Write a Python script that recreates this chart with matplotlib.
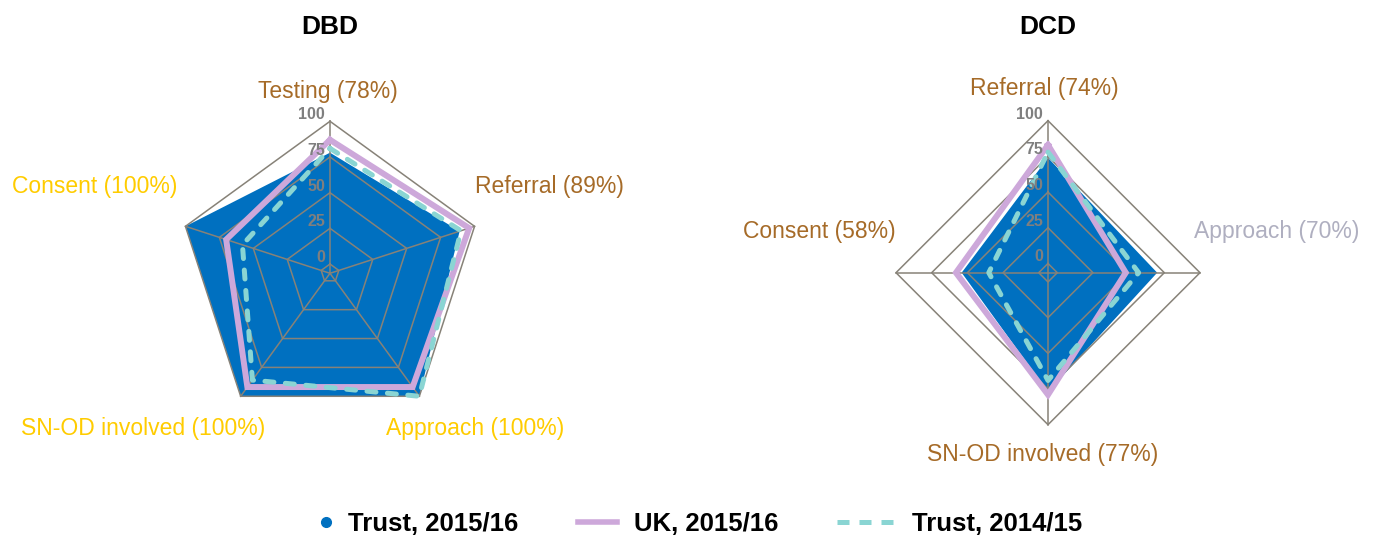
import numpy as np
import matplotlib
matplotlib.use('Agg')
import matplotlib.pyplot as plt
from matplotlib.lines import Line2D
import matplotlib.transforms as mtransforms

plt.rcParams['font.family'] = ['Liberation Sans', 'DejaVu Sans']

# ---------------- data ----------------
dbd_labels = ['Testing (78%)', 'Referral (89%)', 'Approach (100%)',
              'SN-OD involved (100%)', 'Consent (100%)']
dbd_trust_1516 = [78, 89, 100, 100, 100]
dbd_uk_1516 = [87, 96, 92, 92, 70]
dbd_trust_1415 = [81, 90, 100, 86, 58]

dcd_labels = ['Referral (74%)', 'Approach (70%)', 'SN-OD involved (77%)', 'Consent (58%)']
dcd_trust_1516 = [74, 70, 77, 54]
dcd_uk_1516 = [83, 48, 79, 58]
dcd_trust_1415 = [78, 57, 69, 35]

rings = [0, 25, 50, 75, 100]
series_names = ['Trust, 2015/16', 'UK, 2015/16', 'Trust, 2014/15']

# ---------------- style ----------------
BROWN = '#A66B28'
YELLOW = '#FFCC00'
LGRAY = '#AFAFC0'
dbd_label_colors = [BROWN, BROWN, YELLOW, YELLOW, YELLOW]
dcd_label_colors = [BROWN, LGRAY, BROWN, BROWN]

BLUE = '#0070C0'
PINK = '#CDA8DA'
TEAL = '#8AD5D3'
GRID = '#878278'
RMIN = -6.5

W, H = 1375, 541
fig = plt.figure(figsize=(W / 100, H / 100), dpi=100)


def fx(x):
    return x / W


def fy(y):
    return 1 - y / H


def radar(cx, cy, R, trust, uk, prev, labels, label_pos, label_colors, title):
    ax = fig.add_axes([fx(cx - R), fy(cy + R), 2 * R / W, 2 * R / H], projection='polar')
    ax.set_theta_offset(np.pi / 2)
    ax.set_theta_direction(-1)
    ax.set_ylim(RMIN, 100)
    ax.set_axis_off()
    n = len(trust)
    theta = np.linspace(0, 2 * np.pi, n, endpoint=False)
    th = np.r_[theta, theta[:1]]

    def close(v):
        return np.r_[v, v[:1]]

    ax.fill(th, close(trust), color=BLUE, lw=0, zorder=1)
    for lev in rings:
        ax.plot(th, [lev] * (n + 1), color=GRID, lw=1.1, zorder=2, clip_on=False)
    for t in theta:
        ax.plot([t, t], [RMIN, 100], color=GRID, lw=1.1, zorder=2, clip_on=False)
    ax.plot(th, close(uk), color=PINK, lw=4.3, zorder=3, clip_on=False,
            solid_joinstyle='miter')
    ax.plot(th, close(prev), color=TEAL, lw=3.6, ls=(0, (1.8, 2.3)),
            dash_capstyle='round', zorder=4, clip_on=False)

    tr = mtransforms.offset_copy(ax.transData, fig=fig, x=-5, y=-1, units='dots')
    for lev in rings:
        ax.text(0, lev, str(lev), transform=tr, ha='right', va='bottom',
                color='#7F7F7F', fontsize=11.5, fontweight='bold', zorder=6)

    for lab, (px, py), col in zip(labels, label_pos, label_colors):
        fig.text(fx(px), fy(py), lab, ha='center', va='center', color=col, fontsize=16.5)

    fig.text(fx(cx), fy(27), title, ha='center', va='center',
             fontweight='bold', fontsize=19)


radar(330, 273.3, 152, dbd_trust_1516, dbd_uk_1516, dbd_trust_1415, dbd_labels,
      [(328, 92), (549, 187), (475, 429), (143, 429), (95, 187)],
      dbd_label_colors, 'DBD')
radar(1048, 272.7, 152, dcd_trust_1516, dcd_uk_1516, dcd_trust_1415, dcd_labels,
      [(1044, 89), (1277, 231), (1043, 454), (819, 231)],
      dcd_label_colors, 'DCD')

# ---------------- legend (Excel-style equal-width entries) ----------------
handles = [
    Line2D([], [], color=BLUE, marker='o', ls='none', markersize=7),
    Line2D([], [], color=PINK, lw=4),
    Line2D([], [], color=TEAL, lw=3.6, ls=(0, (2.4, 2.0)), dash_capstyle='butt'),
]
entry_left = [318, 578, 837]
handle_len = [0.6, 1.52, 2.18]
text_pad = [0.56, 0.66, 0.74]
for h, name, x0, hl, tp in zip(handles, series_names, entry_left, handle_len, text_pad):
    lg = fig.legend([h], [name], loc='center left', bbox_to_anchor=(fx(x0), fy(524)),
                    frameon=False, prop=dict(weight='bold', size=18.5),
                    handlelength=hl, handletextpad=tp, borderpad=0,
                    borderaxespad=0, numpoints=1)

fig.savefig('out.png', dpi=100)
